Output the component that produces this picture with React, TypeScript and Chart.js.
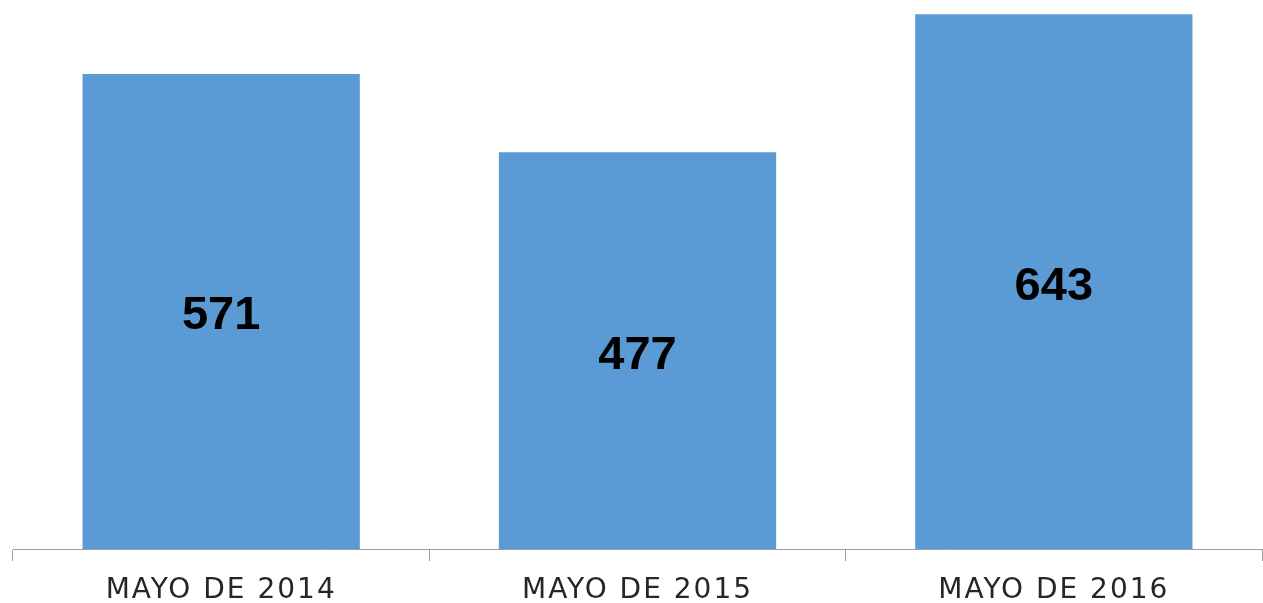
import React, { useEffect, useRef } from "react";
import { Chart, registerables } from "chart.js";

Chart.register(...registerables);

const categories = ["MAYO DE 2014", "MAYO DE 2015", "MAYO DE 2016"];
const values = [571, 477, 643];

const valueLabels = {
  id: "valueLabels",
  beforeDraw(chart: any) {
    chart.ctx.letterSpacing = "2px";
  },
  beforeDatasetsDraw(chart: any) {
    chart.ctx.letterSpacing = "0px";
  },
  afterDatasetsDraw(chart: any) {
    const ctx = chart.ctx;
    const meta = chart.getDatasetMeta(0);
    ctx.save();
    ctx.letterSpacing = "0px";
    ctx.font = "bold 47px 'Liberation Sans'";
    ctx.fillStyle = "#000000";
    ctx.textAlign = "center";
    ctx.textBaseline = "middle";
    meta.data.forEach((bar: any, i: number) => {
      const p = bar.getProps(["x", "y", "base"], true);
      ctx.fillText(String(values[i]), p.x, (p.y + p.base) / 2 + 5);
    });
    ctx.restore();
  },
};

export default function App() {
  const ref = useRef<HTMLCanvasElement>(null);
  useEffect(() => {
    if (!ref.current) return;
    const chart = new Chart(ref.current, {
      type: "bar",
      data: {
        labels: categories,
        datasets: [
          {
            data: values,
            backgroundColor: "#5B9BD5",
            categoryPercentage: 1,
            barPercentage: 0.666,
          },
        ],
      },
      options: {
        animation: false,
        responsive: false,
        maintainAspectRatio: false,
        layout: { padding: { left: 13, right: 1, top: 0, bottom: 0 } },
        plugins: { legend: { display: false }, tooltip: { enabled: false } },
        scales: {
          x: {
            offset: true,
            grid: {
              display: true,
              drawOnChartArea: false,
              drawTicks: true,
              tickLength: 12,
              color: "#9E9E9E",
              offset: true,
            },
            border: { display: true, color: "#9E9E9E", width: 1 },
            ticks: {
              color: "#262626",
              font: { family: "'DejaVu Sans'", size: 28, lineHeight: 1 },
              padding: 16,
            },
          },
          y: {
            display: false,
            min: 0,
            max: 660,
          },
        },
      },
      plugins: [valueLabels],
    });
    return () => chart.destroy();
  }, []);
  return (
    <div style={{ position: "fixed", left: 0, top: 0, width: 1263, height: 603, overflow: "hidden", background: "#fff" }}>
      <canvas ref={ref} width={1263} height={621} style={{ display: "block" }} />
    </div>
  );
}
